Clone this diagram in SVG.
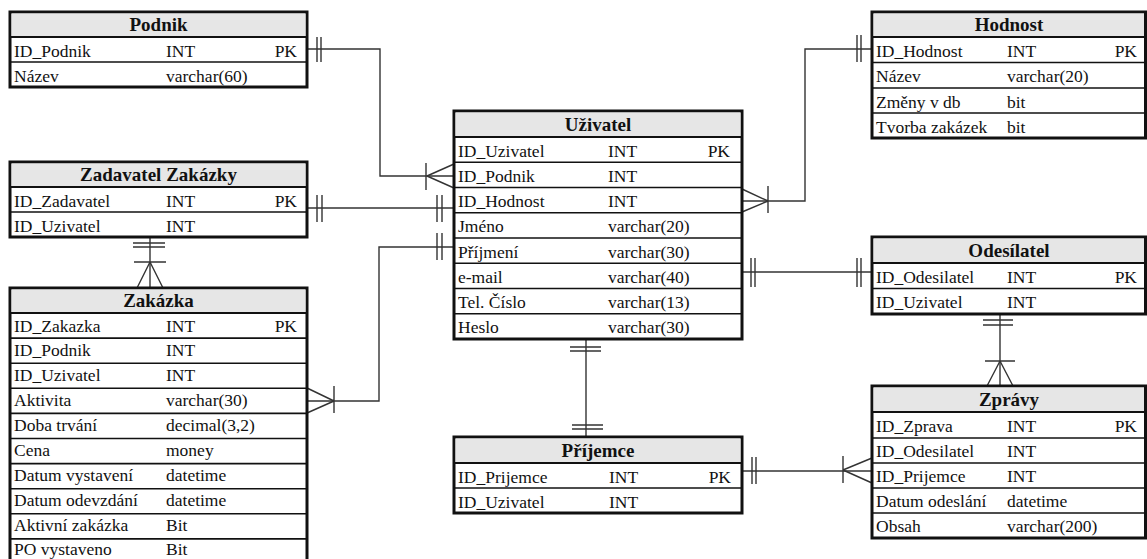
<svg xmlns="http://www.w3.org/2000/svg" width="1147" height="559" viewBox="0 0 1147 559">
<style>
.box{fill:#fff;stroke:#111;stroke-width:3}
.hd{fill:#e6e6e6;stroke:none}
.hs{stroke:#111;stroke-width:2.2}
.rs{stroke:#111;stroke-width:1.6}
text{font-family:'Liberation Serif','Times New Roman',Tinos,'DejaVu Serif',serif}
.t{font-size:17.5px;fill:#111}
.h{font-size:19px;font-weight:bold;fill:#111;text-anchor:middle}
.pk{text-anchor:end}
.c{fill:none;stroke:#333;stroke-width:1.4}
</style>
<rect width="1147" height="559" fill="#fff"/>

<g id="connectors" class="c">
  <path d="M307,49 H380 V176 H454"/>
  <path d="M317,37 V62 M321,37 V62"/>
  <path d="M426,163 V190 M427,176 L454,164 M427,176 L454,188"/>
  <path d="M307,208 H454"/>
  <path d="M317,195 V222 M322,195 V222 M437,195 V222 M442,195 V222"/>
  <path d="M307,401 H379 V247 H454"/>
  <path d="M437,233 V260 M442,233 V260"/>
  <path d="M334,386 V413 M334,401 L307,388 M334,401 L307,413"/>
  <path d="M150,237 V288"/>
  <path d="M133,243 H165 M133,247 H165"/>
  <path d="M134,262 H166 M150,262 L137,288 M150,262 L163,288"/>
  <path d="M742,201 H805 V49 H872"/>
  <path d="M768,186 V213 M768,201 L742,189 M768,201 L742,212"/>
  <path d="M857,35 V62 M861,35 V62"/>
  <path d="M742,272 H872"/>
  <path d="M751,258 V287 M755,258 V287 M857,258 V287 M861,258 V287"/>
  <path d="M1000,314 V386"/>
  <path d="M983,320 H1013 M983,325 H1013"/>
  <path d="M985,361 H1015 M1000,361 L987,386 M1000,361 L1013,386"/>
  <path d="M586,339 V437"/>
  <path d="M570,347 H601 M570,351 H601 M572,425 H603 M572,429 H603"/>
  <path d="M742,471 H872"/>
  <path d="M752,457 V484 M756,457 V484"/>
  <path d="M843,456 V483 M843,470 L872,458 M843,470 L872,483"/>
</g>

<g id="podnik">
  <rect class="box" x="10" y="12" width="297" height="75"/>
  <rect class="hd" x="11.5" y="13.5" width="294" height="23.5"/>
  <line class="hs" x1="10" y1="37" x2="307" y2="37"/>
  <line class="rs" x1="10" y1="62" x2="307" y2="62"/>
  <text class="h" x="158.5" y="31">Podnik</text>
  <text class="t" x="14" y="56.5">ID_Podnik</text><text class="t" x="166" y="56.5">INT</text><text class="t pk" x="297" y="56.5">PK</text>
  <text class="t" x="14" y="81.5">Název</text><text class="t" x="166" y="81.5">varchar(60)</text>
</g>

<g id="zadavatel">
  <rect class="box" x="10" y="162" width="297" height="75"/>
  <rect class="hd" x="11.5" y="163.5" width="294" height="23.5"/>
  <line class="hs" x1="10" y1="187" x2="307" y2="187"/>
  <line class="rs" x1="10" y1="212" x2="307" y2="212"/>
  <text class="h" x="158.5" y="181">Zadavatel Zakázky</text>
  <text class="t" x="14" y="206.5">ID_Zadavatel</text><text class="t" x="166" y="206.5">INT</text><text class="t pk" x="297" y="206.5">PK</text>
  <text class="t" x="14" y="231.5">ID_Uzivatel</text><text class="t" x="166" y="231.5">INT</text>
</g>

<g id="zakazka">
  <rect class="box" x="10" y="288" width="297" height="276"/>
  <rect class="hd" x="11.5" y="289.5" width="294" height="23.5"/>
  <line class="hs" x1="10" y1="313" x2="307" y2="313"/>
  <g class="rs">
    <line x1="10" y1="338.1" x2="307" y2="338.1"/>
    <line x1="10" y1="363.2" x2="307" y2="363.2"/>
    <line x1="10" y1="388.3" x2="307" y2="388.3"/>
    <line x1="10" y1="413.4" x2="307" y2="413.4"/>
    <line x1="10" y1="438.5" x2="307" y2="438.5"/>
    <line x1="10" y1="463.6" x2="307" y2="463.6"/>
    <line x1="10" y1="488.7" x2="307" y2="488.7"/>
    <line x1="10" y1="513.8" x2="307" y2="513.8"/>
    <line x1="10" y1="538.9" x2="307" y2="538.9"/>
  </g>
  <text class="h" x="158.5" y="307">Zakázka</text>
  <text class="t" x="14" y="331.5">ID_Zakazka</text><text class="t" x="166" y="331.5">INT</text><text class="t pk" x="297" y="331.5">PK</text>
  <text class="t" x="14" y="356.2">ID_Podnik</text><text class="t" x="166" y="356.2">INT</text>
  <text class="t" x="14" y="381">ID_Uzivatel</text><text class="t" x="166" y="381">INT</text>
  <text class="t" x="14" y="405.8">Aktivita</text><text class="t" x="166" y="405.8">varchar(30)</text>
  <text class="t" x="14" y="430.6">Doba trvání</text><text class="t" x="166" y="430.6">decimal(3,2)</text>
  <text class="t" x="14" y="455.5">Cena</text><text class="t" x="166" y="455.5">money</text>
  <text class="t" x="14" y="480.5">Datum vystavení</text><text class="t" x="166" y="480.5">datetime</text>
  <text class="t" x="14" y="505.5">Datum odevzdání</text><text class="t" x="166" y="505.5">datetime</text>
  <text class="t" x="14" y="530.5">Aktivní zakázka</text><text class="t" x="166" y="530.5">Bit</text>
  <text class="t" x="14" y="555">PO vystaveno</text><text class="t" x="166" y="555">Bit</text>
</g>

<g id="uzivatel">
  <rect class="box" x="454" y="111" width="288" height="228"/>
  <rect class="hd" x="455.5" y="112.5" width="285" height="24.5"/>
  <line class="hs" x1="454" y1="137" x2="742" y2="137"/>
  <g class="rs">
    <line x1="454" y1="162.25" x2="742" y2="162.25"/>
    <line x1="454" y1="187.5" x2="742" y2="187.5"/>
    <line x1="454" y1="212.75" x2="742" y2="212.75"/>
    <line x1="454" y1="238" x2="742" y2="238"/>
    <line x1="454" y1="263.25" x2="742" y2="263.25"/>
    <line x1="454" y1="288.5" x2="742" y2="288.5"/>
    <line x1="454" y1="313.75" x2="742" y2="313.75"/>
  </g>
  <text class="h" x="598" y="131">Uživatel</text>
  <text class="t" x="458" y="156.5">ID_Uzivatel</text><text class="t" x="608" y="156.5">INT</text><text class="t pk" x="730" y="156.5">PK</text>
  <text class="t" x="458" y="181.75">ID_Podnik</text><text class="t" x="608" y="181.75">INT</text>
  <text class="t" x="458" y="207">ID_Hodnost</text><text class="t" x="608" y="207">INT</text>
  <text class="t" x="458" y="232.25">Jméno</text><text class="t" x="608" y="232.25">varchar(20)</text>
  <text class="t" x="458" y="257.5">Příjmení</text><text class="t" x="608" y="257.5">varchar(30)</text>
  <text class="t" x="458" y="282.75">e-mail</text><text class="t" x="608" y="282.75">varchar(40)</text>
  <text class="t" x="458" y="308">Tel. Číslo</text><text class="t" x="608" y="308">varchar(13)</text>
  <text class="t" x="458" y="333">Heslo</text><text class="t" x="608" y="333">varchar(30)</text>
</g>

<g id="prijemce">
  <rect class="box" x="454" y="437" width="288" height="76"/>
  <rect class="hd" x="455.5" y="438.5" width="285" height="24.5"/>
  <line class="hs" x1="454" y1="463" x2="742" y2="463"/>
  <line class="rs" x1="454" y1="488" x2="742" y2="488"/>
  <text class="h" x="598" y="457">Příjemce</text>
  <text class="t" x="458" y="482.5">ID_Prijemce</text><text class="t" x="609" y="482.5">INT</text><text class="t pk" x="731" y="482.5">PK</text>
  <text class="t" x="458" y="507.5">ID_Uzivatel</text><text class="t" x="609" y="507.5">INT</text>
</g>

<g id="hodnost">
  <rect class="box" x="872" y="12" width="273.5" height="126"/>
  <rect class="hd" x="873.5" y="13.5" width="270.5" height="23.5"/>
  <line class="hs" x1="872" y1="37" x2="1145.5" y2="37"/>
  <g class="rs">
    <line x1="872" y1="62.5" x2="1145.5" y2="62.5"/>
    <line x1="872" y1="88" x2="1145.5" y2="88"/>
    <line x1="872" y1="113" x2="1145.5" y2="113"/>
  </g>
  <text class="h" x="1009" y="31">Hodnost</text>
  <text class="t" x="876" y="56.5">ID_Hodnost</text><text class="t" x="1007" y="56.5">INT</text><text class="t pk" x="1137" y="56.5">PK</text>
  <text class="t" x="876" y="82">Název</text><text class="t" x="1007" y="82">varchar(20)</text>
  <text class="t" x="876" y="107.5">Změny v db</text><text class="t" x="1007" y="107.5">bit</text>
  <text class="t" x="876" y="132.5">Tvorba zakázek</text><text class="t" x="1007" y="132.5">bit</text>
</g>

<g id="odesilatel">
  <rect class="box" x="872" y="237" width="273.5" height="77"/>
  <rect class="hd" x="873.5" y="238.5" width="270.5" height="24.5"/>
  <line class="hs" x1="872" y1="263" x2="1145.5" y2="263"/>
  <line class="rs" x1="872" y1="288.5" x2="1145.5" y2="288.5"/>
  <text class="h" x="1009" y="257">Odesílatel</text>
  <text class="t" x="876" y="282.5">ID_Odesilatel</text><text class="t" x="1007" y="282.5">INT</text><text class="t pk" x="1137" y="282.5">PK</text>
  <text class="t" x="876" y="308">ID_Uzivatel</text><text class="t" x="1007" y="308">INT</text>
</g>

<g id="zpravy">
  <rect class="box" x="872" y="386" width="273.5" height="152"/>
  <rect class="hd" x="873.5" y="387.5" width="270.5" height="24.5"/>
  <line class="hs" x1="872" y1="412" x2="1145.5" y2="412"/>
  <g class="rs">
    <line x1="872" y1="438" x2="1145.5" y2="438"/>
    <line x1="872" y1="463" x2="1145.5" y2="463"/>
    <line x1="872" y1="488" x2="1145.5" y2="488"/>
    <line x1="872" y1="513" x2="1145.5" y2="513"/>
  </g>
  <text class="h" x="1009" y="406">Zprávy</text>
  <text class="t" x="876" y="431.5">ID_Zprava</text><text class="t" x="1007" y="431.5">INT</text><text class="t pk" x="1137" y="431.5">PK</text>
  <text class="t" x="876" y="457">ID_Odesilatel</text><text class="t" x="1007" y="457">INT</text>
  <text class="t" x="876" y="482">ID_Prijemce</text><text class="t" x="1007" y="482">INT</text>
  <text class="t" x="876" y="507">Datum odeslání</text><text class="t" x="1007" y="507">datetime</text>
  <text class="t" x="876" y="532">Obsah</text><text class="t" x="1007" y="532">varchar(200)</text>
</g>
</svg>
